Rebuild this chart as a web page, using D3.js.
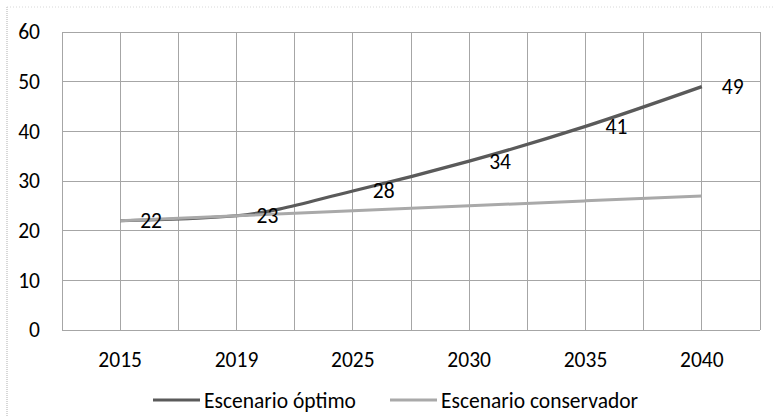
<!DOCTYPE html>
<html>
<head>
<meta charset="utf-8">
<script src="https://cdn.jsdelivr.net/npm/d3@7"></script>
<style>
  html, body { margin: 0; padding: 0; background: #fff; }
  svg { display: block; }
  text { font-family: Calibri, Carlito, Lato, "Open Sans", sans-serif; fill: #000; }
</style>
</head>
<body>
<div id="chart"></div>
<script>
const categories = ["2015", "2019", "2025", "2030", "2035", "2040"];
const optimo = [22, 23, 28, 34, 41, 49];
const conservador = [22, 23, 24, 25, 26, 27];
const yTicks = [0, 10, 20, 30, 40, 50, 60];
const seriesNames = ["Escenario óptimo", "Escenario conservador"];

const W = 773, H = 416;
const FS = "21.5px";
const margin = { left: 62, right: 13, top: 32, bottom: 86 };
const svg = d3.select("#chart").append("svg").attr("width", W).attr("height", H);

const x = d3.scaleBand().domain(categories).range([margin.left, W - margin.right]).paddingInner(0).paddingOuter(0);
const y = d3.scaleLinear().domain([0, 60]).range([H - margin.bottom, margin.top]);
const cx = d => x(d) + x.bandwidth() / 2;

// outer frame (faint dotted)
svg.append("line").attr("x1", 7).attr("x2", 7).attr("y1", 7).attr("y2", H)
  .attr("stroke", "#b0b0b0").attr("stroke-dasharray", "1,1");
svg.append("line").attr("x1", 7).attr("x2", W).attr("y1", 7).attr("y2", 7)
  .attr("stroke", "#d8d8d8").attr("stroke-dasharray", "1,2");

// grid
const grid = svg.append("g").attr("stroke", "#a6a6a6").attr("stroke-width", 1).attr("shape-rendering", "crispEdges");
const vx = [];
categories.forEach(c => { vx.push(x(c)); vx.push(cx(c)); });
vx.push(x(categories[categories.length - 1]) + x.bandwidth());
grid.selectAll("line.v").data(vx).join("line").attr("class", "v")
  .attr("x1", d => d).attr("x2", d => d).attr("y1", y(60)).attr("y2", y(0));
grid.selectAll("line.h").data(yTicks).join("line").attr("class", "h")
  .attr("x1", margin.left).attr("x2", W - margin.right).attr("y1", d => y(d)).attr("y2", d => y(d));

// axes
const yAxis = d3.axisLeft(y).tickValues(yTicks).tickSize(0).tickPadding(22);
svg.append("g").attr("transform", `translate(${margin.left},0)`).call(yAxis)
  .call(g => g.select(".domain").remove())
  .selectAll("text").style("font-size", FS);

const xAxis = d3.axisBottom(x).tickSize(0).tickPadding(22);
svg.append("g").attr("transform", `translate(0,${y(0)})`).call(xAxis)
  .call(g => g.select(".domain").remove())
  .selectAll("text").style("font-size", FS);

// lines
const line = d3.line().x((d, i) => cx(categories[i])).y(d => y(d)).curve(d3.curveMonotoneX);
svg.append("path").datum(optimo).attr("d", line).attr("fill", "none")
  .attr("stroke", "#5a5a5a").attr("stroke-width", 3.2);
svg.append("path").datum(conservador).attr("d", line).attr("fill", "none")
  .attr("stroke", "#a9a9a9").attr("stroke-width", 3);

// data labels
svg.append("g").selectAll("text").data(optimo).join("text")
  .attr("x", (d, i) => cx(categories[i]) + 20)
  .attr("y", d => y(d))
  .attr("dy", "0.35em")
  .style("font-size", FS)
  .text(d => d);

// legend
const legendY = 400;
const leg = [
  { name: seriesNames[0], color: "#5a5a5a", x0: 153 },
  { name: seriesNames[1], color: "#a9a9a9", x0: 390 }
];
const lg = svg.append("g");
leg.forEach(l => {
  lg.append("line").attr("x1", l.x0).attr("x2", l.x0 + 47).attr("y1", legendY).attr("y2", legendY)
    .attr("stroke", l.color).attr("stroke-width", 3);
  lg.append("text").attr("x", l.x0 + 51).attr("y", legendY).attr("dy", "0.35em")
    .style("font-size", FS).text(l.name);
});
</script>
</body>
</html>
